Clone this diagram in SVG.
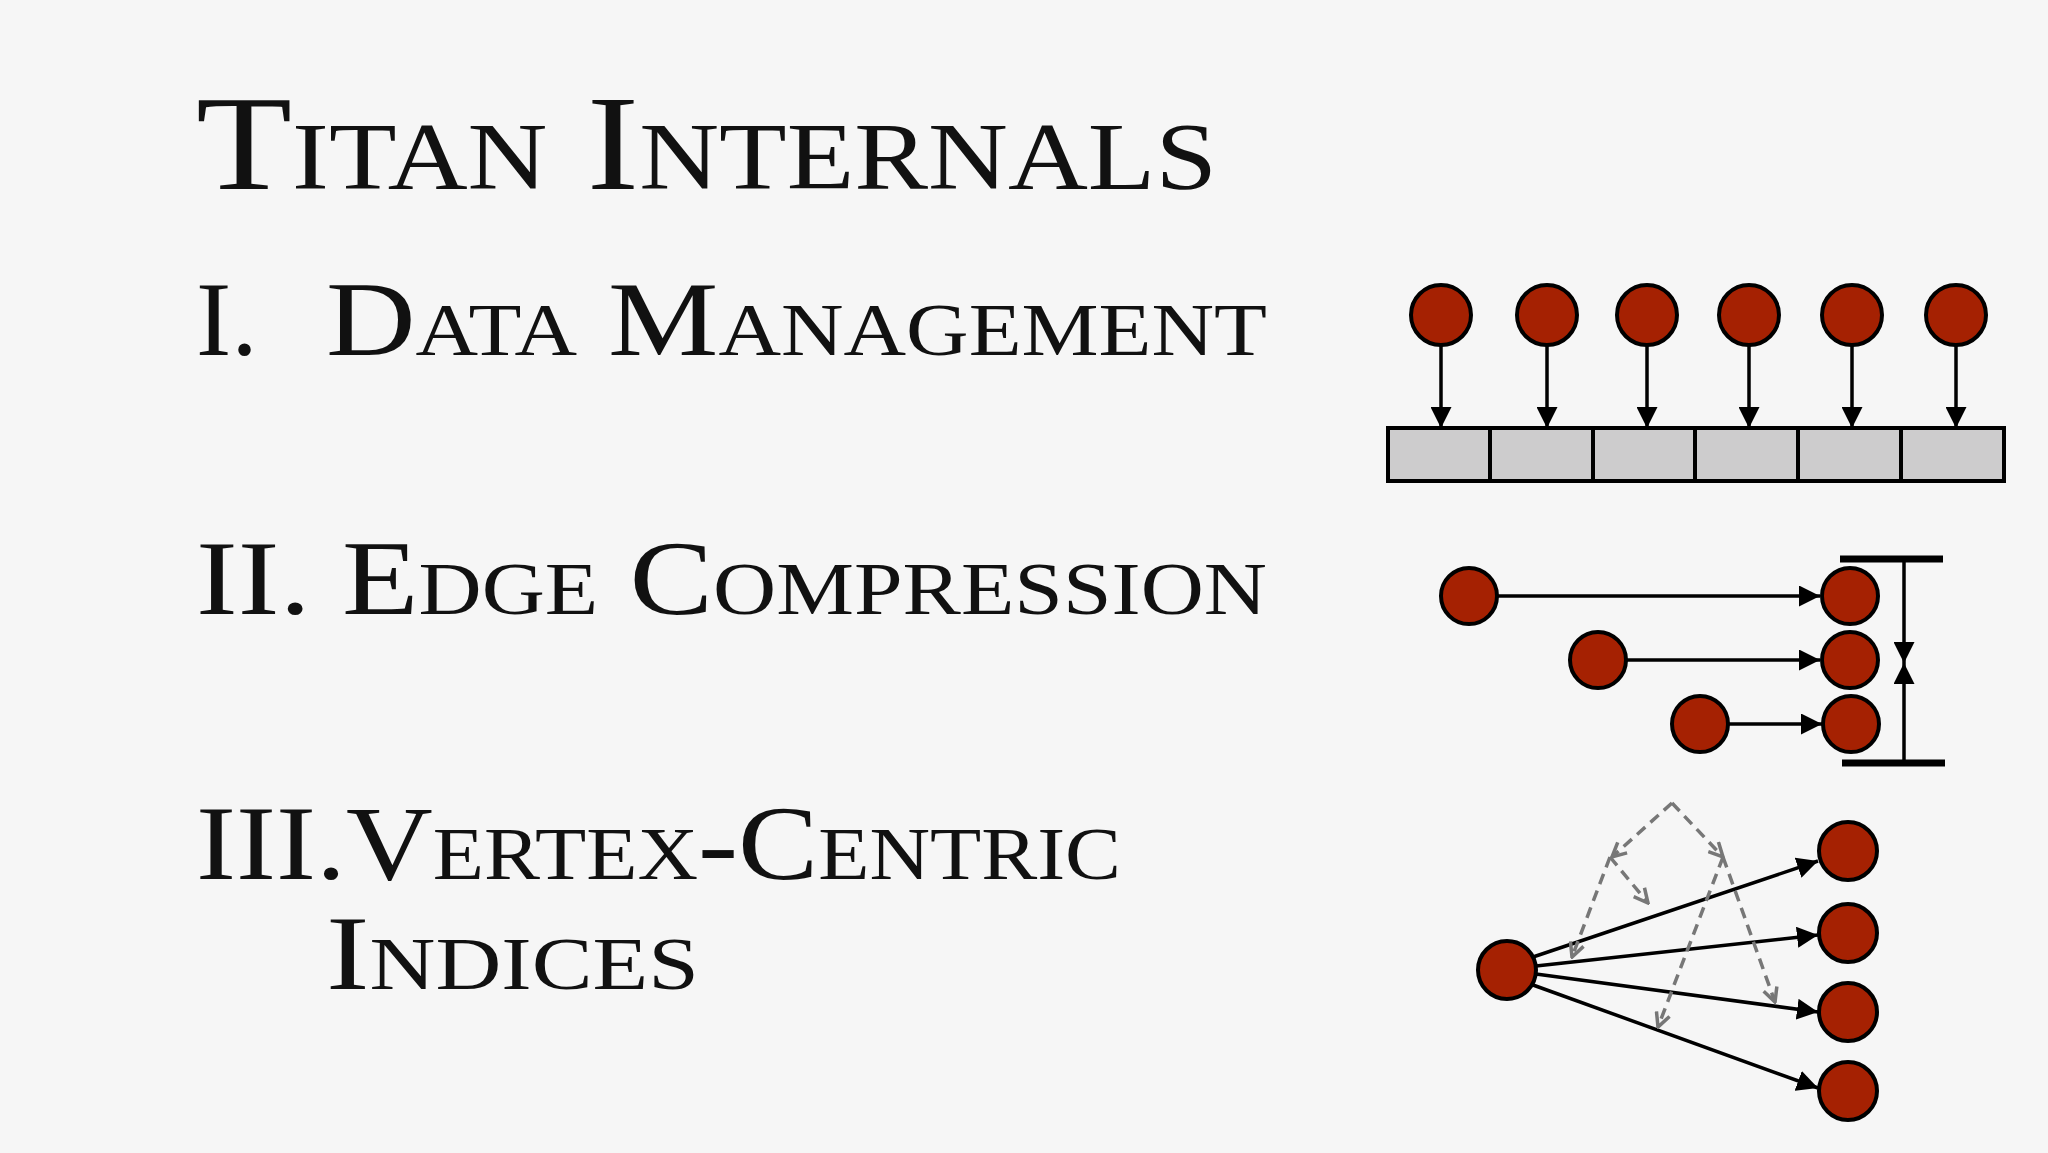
<svg xmlns="http://www.w3.org/2000/svg" width="2048" height="1153" viewBox="0 0 2048 1153">
<style>
.t{font-family:"Liberation Serif","DejaVu Serif",serif;font-variant:small-caps;fill:#111}
.n{fill:#a52102;stroke:#000;stroke-width:4}
.e{stroke:#000;stroke-width:3.5;fill:none}
.d{stroke:#777;stroke-width:3.5;fill:none;stroke-dasharray:11 7}
.c{fill:#cdcccd;stroke:#000;stroke-width:4}
</style>
<defs>
<marker id="a" viewBox="0 0 10 10" refX="10" refY="5" markerWidth="6" markerHeight="6" orient="auto" markerUnits="strokeWidth"><path d="M0,0L10,5L0,10z" fill="#000"/></marker>
<marker id="g" viewBox="0 0 10 10" refX="9" refY="5" markerWidth="5" markerHeight="5" orient="auto" markerUnits="strokeWidth"><path d="M1,1L9,5L1,9" fill="none" stroke="#777" stroke-width="2"/></marker>
</defs>
<rect width="2048" height="1153" fill="#f6f6f6"/>
<g id="texts">
<text class="t" x="196" y="189" font-size="135" textLength="1021" lengthAdjust="spacingAndGlyphs">Titan Internals</text>
<text class="t" x="196" y="355" font-size="106">I.</text>
<text class="t" x="326" y="355" font-size="106" textLength="941" lengthAdjust="spacingAndGlyphs">Data Management</text>
<text class="t" x="196" y="614" font-size="106" textLength="1071" lengthAdjust="spacingAndGlyphs">II. Edge Compression</text>
<text class="t" x="196" y="879" font-size="106" textLength="925" lengthAdjust="spacingAndGlyphs">III.Vertex-Centric</text>
<text class="t" x="326" y="989" font-size="106" textLength="373" lengthAdjust="spacingAndGlyphs">Indices</text>
</g>
<g id="array">
<rect class="c" x="1388" y="428" width="102" height="53"/>
<rect class="c" x="1490" y="428" width="103" height="53"/>
<rect class="c" x="1593" y="428" width="102" height="53"/>
<rect class="c" x="1695" y="428" width="103" height="53"/>
<rect class="c" x="1798" y="428" width="103" height="53"/>
<rect class="c" x="1901" y="428" width="103" height="53"/>
</g>
<g id="connectors">
<path class="e" marker-end="url(#a)" d="M1441,345V428"/>
<path class="e" marker-end="url(#a)" d="M1547,345V428"/>
<path class="e" marker-end="url(#a)" d="M1647,345V428"/>
<path class="e" marker-end="url(#a)" d="M1749,345V428"/>
<path class="e" marker-end="url(#a)" d="M1852,345V428"/>
<path class="e" marker-end="url(#a)" d="M1956,345V428"/>
<path class="e" marker-end="url(#a)" d="M1497,596H1820"/>
<path class="e" marker-end="url(#a)" d="M1626,660H1820"/>
<path class="e" marker-end="url(#a)" d="M1728,724H1822"/>
<path d="M1840,559H1943M1842,763H1945" stroke="#000" stroke-width="7"/>
<path class="e" marker-end="url(#a)" d="M1904,559V663"/>
<path class="e" marker-end="url(#a)" d="M1904,763V663"/>
<path class="e" marker-end="url(#a)" d="M1533,957L1818,861"/>
<path class="e" marker-end="url(#a)" d="M1536,966L1818,935"/>
<path class="e" marker-end="url(#a)" d="M1536,974L1818,1012"/>
<path class="e" marker-end="url(#a)" d="M1533,985L1818,1088"/>
<path class="d" marker-end="url(#g)" d="M1672,803L1612,857"/>
<path class="d" marker-end="url(#g)" d="M1672,803L1723,857"/>
<path class="d" marker-end="url(#g)" d="M1610,857L1648,903"/>
<path class="d" marker-end="url(#g)" d="M1610,857L1572,957"/>
<path class="d" marker-end="url(#g)" d="M1723,857L1658,1027"/>
<path class="d" marker-end="url(#g)" d="M1723,857L1775,1002"/>
</g>
<g id="n1"><circle class="n" cx="1441" cy="315" r="30"/></g>
<g id="n2"><circle class="n" cx="1547" cy="315" r="30"/></g>
<g id="n3"><circle class="n" cx="1647" cy="315" r="30"/></g>
<g id="n4"><circle class="n" cx="1749" cy="315" r="30"/></g>
<g id="n5"><circle class="n" cx="1852" cy="315" r="30"/></g>
<g id="n6"><circle class="n" cx="1956" cy="315" r="30"/></g>
<g id="e1"><circle class="n" cx="1469" cy="596" r="28"/></g>
<g id="e2"><circle class="n" cx="1598" cy="660" r="28"/></g>
<g id="e3"><circle class="n" cx="1700" cy="724" r="28"/></g>
<g id="e4"><circle class="n" cx="1850" cy="596" r="28"/></g>
<g id="e5"><circle class="n" cx="1850" cy="660" r="28"/></g>
<g id="e6"><circle class="n" cx="1851" cy="724" r="28"/></g>
<g id="v0"><circle class="n" cx="1507" cy="970" r="29"/></g>
<g id="v1"><circle class="n" cx="1848" cy="851" r="29"/></g>
<g id="v2"><circle class="n" cx="1848" cy="933" r="29"/></g>
<g id="v3"><circle class="n" cx="1848" cy="1012" r="29"/></g>
<g id="v4"><circle class="n" cx="1848" cy="1091" r="29"/></g>
</svg>
